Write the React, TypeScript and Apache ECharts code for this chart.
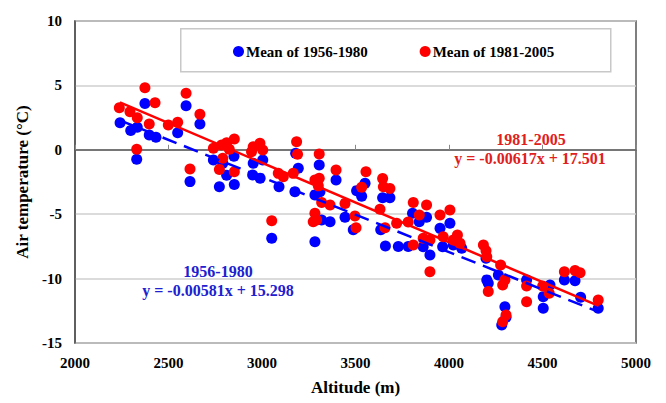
import React, { useEffect, useRef } from "react";
import * as echarts from "echarts";

const xTicks = [2000, 2500, 3000, 3500, 4000, 4500, 5000];
const yTicks = [-15, -10, -5, 0, 5, 10];

// Mean of 1956-1980 : [altitude (m), air temperature (°C)]
const blue1956: number[][] = [
  [2241, 2.1], [2298, 1.5], [2333, 1.75], [2374, 3.6], [2397, 1.15], [2433, 0.97],
  [2549, 1.33], [2594, 3.42], [2668, 2.0], [2330, -0.74], [2615, -2.47],
  [2740, -0.8], [2790, -1.05], [2811, -1.97], [2850, -0.5], [2772, -2.87], [2852, -2.7],
  [2953, -1.05], [3004, -0.79], [2950, -1.96], [2990, -2.2], [3091, -2.87], [3176, -3.25],
  [3180, -0.27], [3194, -1.44], [3306, -1.18], [3283, -3.5], [3310, -3.25], [3396, -2.35],
  [3551, -2.6], [3506, -3.17], [3533, -3.6], [3645, -3.72], [3684, -3.72],
  [3052, -6.87], [3283, -7.14], [3319, -5.45], [3364, -5.58], [3444, -5.24], [3488, -6.2],
  [3635, -6.2], [3660, -7.47], [3729, -7.5], [3782, -7.5],
  [3805, -4.93], [3841, -5.58], [3880, -5.24], [3952, -6.1], [4005, -5.71],
  [3862, -7.52], [3898, -8.17], [3966, -7.52], [4023, -7.39], [4068, -7.65],
  [4198, -8.42], [4202, -10.1], [4210, -10.37], [4264, -9.72], [4299, -12.18],
  [4282, -13.6], [4305, -13.0], [4415, -10.1], [4504, -11.4], [4504, -12.31], [4540, -10.5],
  [4617, -10.1], [4674, -10.16], [4704, -11.45], [4798, -12.31],
];

// Mean of 1981-2005 : [altitude (m), air temperature (°C)]
const red1981: number[][] = [
  [2237, 3.27], [2294, 2.96], [2333, 2.49], [2374, 4.82], [2428, 3.66], [2397, 2.0],
  [2499, 1.93], [2549, 2.13], [2594, 4.39], [2668, 2.76], [2330, 0.04], [2615, -1.49],
  [2740, 0.12], [2784, 0.37], [2811, 0.55], [2852, 0.84], [2825, 0.04], [2790, -0.66],
  [2772, -1.52], [2852, -1.7],
  [2953, 0.24], [2989, 0.5], [3004, -0.02], [2944, -0.15], [3087, -1.83], [3114, -2.09],
  [3167, -1.83], [3185, 0.63], [3190, -0.35], [3306, -0.33], [3283, -2.35], [3306, -2.21],
  [3301, -2.8], [3396, -1.57], [3556, -1.7], [3533, -2.9], [3645, -2.22], [3649, -2.87],
  [3684, -3.0], [3631, -4.62], [3319, -4.1], [3364, -4.29], [3444, -4.16], [3283, -4.93],
  [3292, -5.45], [3274, -5.58], [3052, -5.5], [3497, -5.14], [3503, -6.05], [3658, -6.05],
  [3720, -5.71], [3782, -5.6],
  [3809, -4.1], [3880, -4.29], [3841, -5.06], [3952, -5.06], [4005, -4.67], [3862, -6.87],
  [3898, -7.0], [3809, -7.39], [3898, -9.46], [3969, -6.75], [4023, -7.0], [4045, -6.61],
  [4059, -7.26], [4184, -7.39], [4198, -7.83], [4202, -8.3], [4210, -11.0], [4276, -8.94],
  [4299, -10.1], [4287, -10.5], [4305, -12.83], [4287, -13.35], [4415, -10.57], [4415, -11.79],
  [4501, -10.57], [4536, -11.14], [4617, -9.46], [4674, -9.38], [4701, -9.54], [4798, -11.66],
];

// Regression lines shown on the chart
const blueSlope = -0.00581;
const blueIntercept = 15.298;
const redSlope = -0.00617;
const redIntercept = 17.501;
const fitRange = [2240, 4800];

const FONT = "'Liberation Serif', 'Times New Roman', serif";
const BLUE = "#0000ff";
const RED = "#ff0000";

export default function App() {
  const ref = useRef<HTMLDivElement>(null);
  useEffect(() => {
    if (!ref.current) return;
    const chart = echarts.init(ref.current, null, { renderer: "svg" });
    const blueLine = fitRange.map((x) => [x, blueSlope * x + blueIntercept]);
    const redLine = fitRange.map((x) => [x, redSlope * x + redIntercept]);
    chart.setOption({
      animation: false,
      backgroundColor: "#fff",
      grid: {
        left: 75, right: 30, top: 21, bottom: 60,
        show: true, borderColor: "#555", borderWidth: 1.5,
      },
      legend: {
        left: 233, top: 44, padding: 0, itemWidth: 11, itemHeight: 11, itemGap: 52,
        icon: "circle",
        textStyle: { fontFamily: FONT, fontWeight: "bold", fontSize: 15, color: "#000", padding: [0, 0, 0, -3] },
        data: ["Mean of 1956-1980", "Mean of 1981-2005"],
        z: 10,
      },
      xAxis: {
        type: "value", min: xTicks[0], max: xTicks[xTicks.length - 1], interval: 500,
        name: "Altitude (m)", nameLocation: "middle", nameGap: 36,
        nameTextStyle: { fontFamily: FONT, fontWeight: "bold", fontSize: 17, color: "#000" },
        axisLine: { show: true, lineStyle: { color: "#555", width: 1.5 } },
        axisTick: { show: true, inside: true, length: 5, lineStyle: { color: "#888" } },
        axisLabel: {
          fontFamily: FONT, fontWeight: "bold", fontSize: 15, color: "#000", margin: 12,
          formatter: (v: number) => String(v),
        },
        splitLine: { show: false },
      },
      yAxis: {
        type: "value", min: yTicks[0], max: yTicks[yTicks.length - 1], interval: 5,
        name: "Air temperature (°C)", nameLocation: "middle", nameGap: 44,
        nameTextStyle: { fontFamily: FONT, fontWeight: "bold", fontSize: 17, color: "#000" },
        axisLine: { show: true, lineStyle: { color: "#555", width: 1.5 } },
        axisTick: { show: false },
        axisLabel: {
          fontFamily: FONT, fontWeight: "bold", fontSize: 15, color: "#000", margin: 13,
          formatter: (v: number) => String(v),
        },
        splitLine: { show: true, lineStyle: { color: "#cfcfcf", width: 1.5 } },
      },
      graphic: [
        {
          type: "rect", left: 180, top: 28, z: 5,
          shape: { width: 430, height: 43 },
          style: { fill: "#fff", stroke: "#c8c8c8", lineWidth: 1.5 },
        },
        {
          type: "text", x: 531, y: 139, z: 10,
          style: { text: "1981-2005", fill: "#e0201c", font: `bold 16px ${FONT}`, align: "center", verticalAlign: "middle" },
        },
        {
          type: "text", x: 530, y: 158, z: 10,
          style: { text: "y = -0.00617x + 17.501", fill: "#e0201c", font: `bold 16px ${FONT}`, align: "center", verticalAlign: "middle" },
        },
        {
          type: "text", x: 218, y: 271, z: 10,
          style: { text: "1956-1980", fill: "#2020d0", font: `bold 16px ${FONT}`, align: "center", verticalAlign: "middle" },
        },
        {
          type: "text", x: 218, y: 290, z: 10,
          style: { text: "y = -0.00581x + 15.298", fill: "#2020d0", font: `bold 16px ${FONT}`, align: "center", verticalAlign: "middle" },
        },
      ],
      series: [
        {
          name: "Mean of 1956-1980", type: "scatter", data: blue1956,
          symbol: "circle", symbolSize: 11, itemStyle: { color: BLUE, opacity: 1 }, z: 2,
        },
        {
          name: "Mean of 1981-2005", type: "scatter", data: red1981,
          symbol: "circle", symbolSize: 11, itemStyle: { color: RED, opacity: 1 }, z: 3,
        },
        {
          name: "fit1956", type: "line", data: blueLine, showSymbol: false, symbol: "none",
          lineStyle: { color: BLUE, width: 2.5, type: [15, 8] }, z: 4, silent: true,
        },
        {
          name: "fit1981", type: "line", data: redLine, showSymbol: false, symbol: "none",
          lineStyle: { color: RED, width: 2.5 }, z: 4, silent: true,
        },
      ],
    });
    return () => chart.dispose();
  }, []);
  return <div ref={ref} style={{ width: 666, height: 403, position: "absolute", left: 0, top: 0 }} />;
}
